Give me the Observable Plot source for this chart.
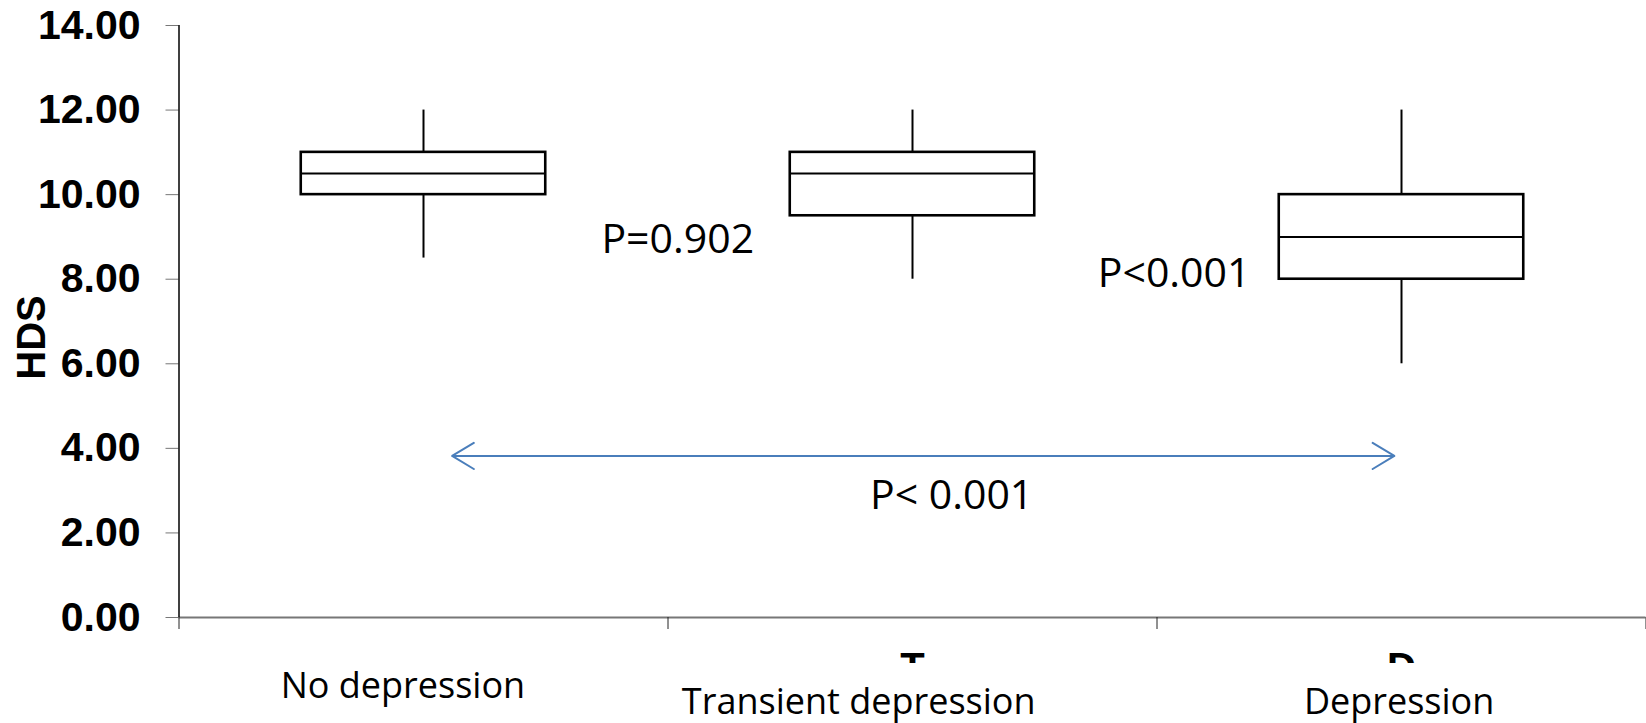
<!DOCTYPE html>
<html><head><meta charset="utf-8">
<script src="https://cdn.jsdelivr.net/npm/d3@7"></script>
<script src="https://cdn.jsdelivr.net/npm/@observablehq/plot@0.6"></script>
<style>html,body{margin:0;padding:0;background:#fff;} svg{display:block}</style>
</head><body><div id="chart"></div>
<script>
// ---- data ----
const categories = ["No depression", "Transient depression", "Depression"];
const whiskerLow = [8.5, 8, 6];
const quartile1 = [10, 9.5, 8];
const medians = [10.5, 10.5, 9];
const quartile3 = [11, 11, 10];
const whiskerHigh = [12, 12, 12];
const yTicks = [0, 2, 4, 6, 8, 10, 12, 14];
const pLabels = ["P=0.902", "P<0.001", "P< 0.001"];
const pX = [1.02, 2.035, 1.58];
const pY = [8.92, 8.13, 2.88];
const arrowStart = 0.5585, arrowEnd = 2.4854, arrowLevel = 3.82;
const cutLetters = ["T", "D"];          // tops of letters peeking below the axis
const cutLetterCategory = [1, 2];

// ---- derived tables ----
const boxes = categories.map((c, i) => ({
  cat: c, i, lo: whiskerLow[i], q1: quartile1[i], med: medians[i], q3: quartile3[i], hi: whiskerHigh[i]
}));
const arrowMid = (arrowStart + arrowEnd) / 2;
const arrows = [{x1: arrowMid, x2: arrowStart}, {x1: arrowMid, x2: arrowEnd}];

const labelDx = [-20.6, -53.8, -2.4];
const labelDy = [80, 96, 96];
const arial = "'Liberation Sans', Arial, sans-serif";

const chart = Plot.plot({
  width: 1646, height: 723,
  marginLeft: 178.5, marginRight: 0.5, marginTop: 25, marginBottom: 106,
  x: {domain: [0, 3], axis: null},
  y: {domain: [0, 14], axis: null},
  style: {fontFamily: "'Open Sans', sans-serif", background: "#fff", overflow: "visible", color: "#000"},
  marks: [
    Plot.axisY({ticks: yTicks, tickSize: 13, tickPadding: 25.5, tickFormat: d => d.toFixed(2),
      fontSize: 41, fontWeight: "bold", fontFamily: arial, stroke: "#777", fill: "#000", label: null}),
    Plot.ruleY([0], {x1: 0, x2: 3, stroke: "#777", strokeWidth: 2}),
    Plot.axisX({ticks: [0, 1, 2, 3], tickSize: 12, tickFormat: () => "", stroke: "#222", label: null}),
    Plot.ruleX([0], {y1: 0, y2: 14, stroke: "#000", strokeWidth: 1.5}),
    Plot.ruleX(boxes, {x: d => d.i + 0.5, y1: "lo", y2: "hi", stroke: "#000", strokeWidth: 2}),
    Plot.rect(boxes, {x1: d => d.i + 0.25, x2: d => d.i + 0.75, y1: "q1", y2: "q3",
      fill: "#fff", stroke: "#000", strokeWidth: 2.6}),
    Plot.ruleY(boxes, {y: "med", x1: d => d.i + 0.25, x2: d => d.i + 0.75, stroke: "#000", strokeWidth: 2}),
    Plot.arrow(arrows, {x1: "x1", x2: "x2", y1: () => arrowLevel, y2: () => arrowLevel,
      stroke: "#4a7ebb", strokeWidth: 2, headLength: 19, headAngle: 62}),
    Plot.text(pLabels, {x: (d, i) => pX[i], y: (d, i) => pY[i], text: d => d, fontSize: 41,
      fill: "#000", textAnchor: "middle", lineAnchor: "middle"}),
    Plot.text(cutLetters, {x: (d, i) => cutLetterCategory[i] + 0.5, text: d => d, frameAnchor: "bottom",
      textAnchor: "middle", lineAnchor: "bottom", dy: 63, fontSize: 40, fontWeight: "bold",
      fontFamily: arial, fill: "#000"}),
    ...categories.map((c, i) => Plot.text([c], {x: () => i + 0.5, text: d => d, frameAnchor: "bottom",
      textAnchor: "middle", lineAnchor: "bottom", dx: labelDx[i], dy: labelDy[i], fontSize: 36, fill: "#000"})),
    Plot.text(["HDS"], {text: d => d, frameAnchor: "left", textAnchor: "middle", lineAnchor: "middle",
      rotate: -90, dx: -146.5, dy: 16, fontSize: 40, fontWeight: "bold", fontFamily: arial, fill: "#000"})
  ]
});
document.getElementById("chart").appendChild(chart);

// clip the peeking letters at the line where they are cut off
const svg = d3.select(chart);
svg.append("defs").append("clipPath").attr("id", "cutclip")
  .attr("clipPathUnits", "userSpaceOnUse")
  .append("rect").attr("x", 0).attr("y", 0).attr("width", 1646).attr("height", 663);
const cutNodes = Array.from(chart.querySelectorAll("text")).filter(t => cutLetters.includes(t.textContent.trim()));
const parents = Array.from(new Set(cutNodes.map(t => t.parentNode)));
parents.forEach(p => {
  // climb up to the direct child of the svg so the wrapper sits in svg coordinates
  let node = p;
  while (node.parentNode && node.parentNode !== chart) node = node.parentNode;
  const wrap = document.createElementNS("http://www.w3.org/2000/svg", "g");
  node.parentNode.insertBefore(wrap, node);
  wrap.appendChild(node);
  wrap.setAttribute("clip-path", "url(#cutclip)");
});
</script>
</body></html>
